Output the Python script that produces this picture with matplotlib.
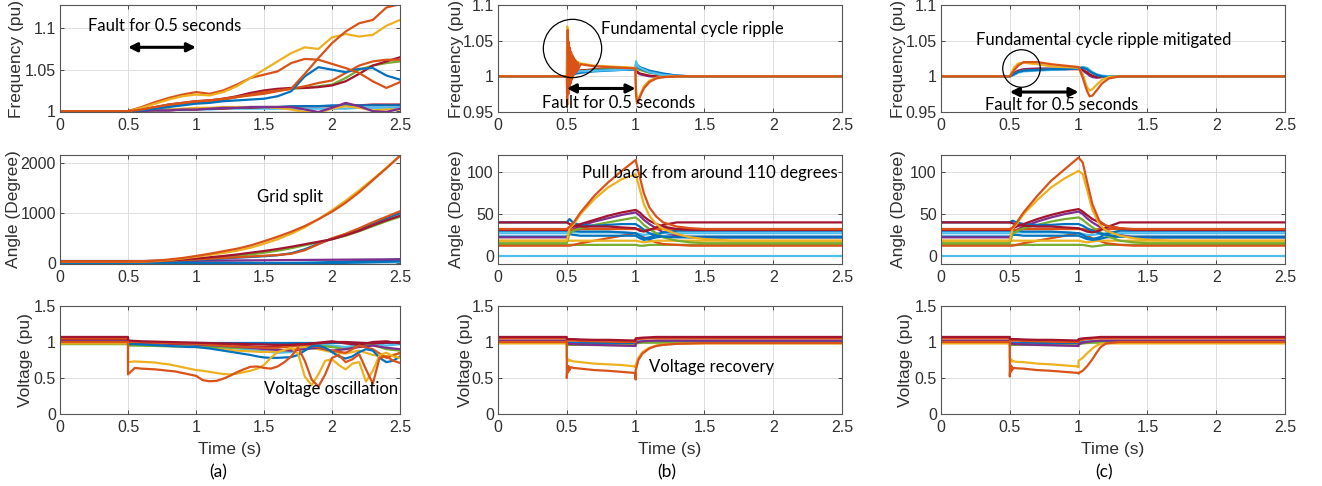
import matplotlib
matplotlib.use("Agg")
import matplotlib.pyplot as plt

# MATLAB default line colours
BLU, ORG, YEL, PUR, GRN, CYN, RED = ('#0072BD', '#D95319', '#EDB120', '#7E2F8E',
                                     '#77AC30', '#4DBEEE', '#A2142F')

# ---------------- (a) frequency / angle, same time grid ----------------
t_a = [0, 0.5, 0.6, 0.7, 0.8, 0.9, 1.0, 1.1, 1.2, 1.3, 1.4, 1.5, 1.6, 1.7, 1.8, 1.9, 2.0,
       2.1, 2.2, 2.3, 2.4, 2.5]

fa_yel = [1.000, 1.000, 1.004, 1.009, 1.014, 1.018, 1.020, 1.019, 1.023, 1.030, 1.040, 1.050,
          1.060, 1.070, 1.077, 1.075, 1.089, 1.093, 1.090, 1.092, 1.103, 1.110]
fa_org1 = [1.000, 1.000, 1.005, 1.011, 1.016, 1.020, 1.023, 1.021, 1.025, 1.032, 1.040, 1.044,
           1.048, 1.058, 1.063, 1.062, 1.057, 1.052, 1.046, 1.036, 1.028, 1.035]
fa_org2 = [1.000, 1.000, 1.002, 1.005, 1.008, 1.010, 1.012, 1.013, 1.015, 1.017, 1.019, 1.021,
           1.024, 1.027, 1.045, 1.064, 1.082, 1.096, 1.106, 1.110, 1.125, 1.129]
fa_red = [1.000, 1.000, 1.002, 1.005, 1.008, 1.010, 1.012, 1.013, 1.015, 1.018, 1.022, 1.025,
          1.027, 1.028, 1.028, 1.029, 1.031, 1.036, 1.045, 1.055, 1.060, 1.065]
fa_blu1 = [1.000, 1.000, 1.001, 1.003, 1.005, 1.007, 1.009, 1.010, 1.012, 1.013, 1.014, 1.015,
           1.018, 1.024, 1.042, 1.053, 1.050, 1.047, 1.051, 1.052, 1.043, 1.038]
fa_grn = [1.000, 1.000, 1.002, 1.004, 1.007, 1.009, 1.011, 1.012, 1.014, 1.017, 1.021, 1.024,
          1.026, 1.027, 1.028, 1.030, 1.032, 1.040, 1.050, 1.055, 1.058, 1.060]
fa_org3 = [1.000, 1.000, 1.002, 1.004, 1.006, 1.009, 1.011, 1.012, 1.014, 1.017, 1.020, 1.023,
           1.025, 1.027, 1.030, 1.034, 1.037, 1.046, 1.055, 1.060, 1.062, 1.062]
fa_pur = [1.000, 1.000, 1.000, 1.001, 1.001, 1.002, 1.002, 1.003, 1.004, 1.004, 1.005, 1.005,
          1.005, 1.005, 1.002, 0.999, 1.004, 1.010, 1.006, 1.000, 0.999, 1.003]
fa_yel2 = [1.000, 1.000, 1.000, 1.001, 1.002, 1.003, 1.004, 1.004, 1.005, 1.005, 1.005, 1.005,
           1.004, 1.002, 0.999, 0.998, 1.003, 1.006, 1.004, 1.001, 1.002, 1.002]
fa_blu2 = [1.000, 1.000, 1.000, 1.001, 1.002, 1.002, 1.003, 1.003, 1.004, 1.004, 1.005, 1.005,
           1.005, 1.006, 1.006, 1.006, 1.007, 1.007, 1.007, 1.007, 1.007, 1.007]
fa_cyn = [1.000, 1.000, 1.000, 1.001, 1.001, 1.002, 1.002, 1.002, 1.003, 1.003, 1.003, 1.003,
          1.003, 1.003, 1.003, 1.003, 1.003, 1.003, 1.004, 1.004, 1.004, 1.004]
fa_red2 = [1.000, 1.000, 1.000, 1.001, 1.001, 1.002, 1.002, 1.003, 1.003, 1.004, 1.004, 1.005,
           1.005, 1.005, 1.006, 1.006, 1.006, 1.007, 1.007, 1.008, 1.008, 1.008]

aa_yel = [30, 30, 35, 45, 65, 95, 130, 165, 205, 250, 310, 390, 480, 590, 720, 880, 1060, 1250,
          1460, 1680, 1910, 2150]
aa_org = [30, 30, 36, 50, 75, 105, 145, 190, 240, 290, 355, 440, 530, 630, 745, 880, 1030, 1210,
          1420, 1660, 1900, 2150]
aa_red = [40, 40, 42, 50, 60, 75, 95, 120, 145, 175, 210, 245, 285, 330, 380, 430, 480, 560, 650,
          760, 860, 950]
aa_blu = [20, 20, 22, 28, 38, 50, 65, 80, 95, 110, 125, 140, 160, 200, 280, 390, 490, 580, 680,
          800, 900, 1000]
aa_org2 = [30, 30, 32, 40, 50, 62, 75, 90, 105, 120, 135, 150, 165, 190, 260, 380, 500, 590, 700,
           820, 930, 1040]
aa_grn = [35, 35, 37, 43, 52, 65, 82, 100, 120, 145, 175, 210, 250, 300, 360, 420, 480, 550, 640,
          740, 840, 930]
aa_blu2 = [10, 10, 10, 9, 8, 7, 6, 5, 4, 3, 2, 2, 3, 5, 8, 15, 25, 35, 45, 55, 65, 75]
aa_pur = [45, 45, 45, 46, 47, 48, 50, 52, 54, 56, 58, 60, 62, 64, 66, 68, 70, 72, 74, 76, 78, 80]
aa_cyn = [0, 0, 0, 1, 1, 2, 2, 3, 3, 4, 5, 6, 7, 8, 9, 10, 12, 14, 16, 18, 20, 22]
aa_blu3 = [25, 25, 24, 22, 20, 18, 16, 14, 12, 10, 8, 6, 4, 2, 0, -2, 2, 8, 15, 22, 30, 40]

# ---------------- (a) voltage ----------------
t_va_fine = [0, 0.5, 0.5, 0.55, 0.6, 0.65, 0.7, 0.75, 0.8, 0.85, 0.9, 0.95, 1.0, 1.05, 1.1,
             1.15, 1.2, 1.25, 1.3, 1.35, 1.4, 1.45, 1.5, 1.55, 1.6, 1.65, 1.7, 1.75, 1.8, 1.85,
             1.9, 1.95, 2.0, 2.05, 2.1, 2.15, 2.2, 2.25, 2.3, 2.35, 2.4, 2.45, 2.5]
va_yel = [0.98, 0.98, 0.72, 0.73, 0.725, 0.72, 0.715, 0.70, 0.69, 0.67, 0.65, 0.63, 0.61, 0.60,
          0.585, 0.57, 0.555, 0.55, 0.56, 0.58, 0.60, 0.63, 0.68, 0.78, 0.86, 0.89, 0.92, 0.84,
          0.52, 0.40, 0.55, 0.74, 0.76, 0.68, 0.62, 0.70, 0.72, 0.45, 0.60, 0.82, 0.85, 0.80, 0.78]
va_org = [1.00, 1.00, 0.55, 0.64, 0.63, 0.625, 0.62, 0.61, 0.60, 0.59, 0.57, 0.55, 0.53, 0.47,
          0.455, 0.46, 0.49, 0.53, 0.58, 0.62, 0.655, 0.66, 0.64, 0.63, 0.66, 0.72, 0.80, 0.92,
          0.74, 0.48, 0.38, 0.55, 0.78, 0.82, 0.72, 0.76, 0.83, 0.62, 0.42, 0.78, 0.80, 0.74, 0.71]
va_blu = [1.00, 1.00, 0.97, 0.97, 0.965, 0.96, 0.955, 0.95, 0.945, 0.94, 0.935, 0.93, 0.93,
          0.92, 0.91, 0.895, 0.88, 0.865, 0.85, 0.835, 0.82, 0.80, 0.785, 0.78, 0.78, 0.785,
          0.79, 0.82, 0.88, 0.94, 0.95, 0.92, 0.86, 0.80, 0.77, 0.80, 0.86, 0.90, 0.88, 0.78,
          0.72, 0.74, 0.80]

t_va = [0, 0.5, 0.5, 0.6, 0.7, 0.8, 0.9, 1.0, 1.1, 1.2, 1.3, 1.4, 1.5, 1.6, 1.7, 1.8, 1.9, 2.0,
        2.1, 2.2, 2.3, 2.4, 2.5]
va_red = [1.07, 1.07, 1.02, 1.01, 1.005, 1.00, 0.995, 0.99, 0.985, 0.98, 0.975, 0.97, 0.965,
          0.96, 0.96, 0.97, 0.98, 1.00, 1.00, 0.99, 0.98, 0.99, 1.00]
va_org2 = [1.05, 1.05, 1.00, 0.995, 0.99, 0.985, 0.98, 0.975, 0.96, 0.95, 0.94, 0.93, 0.92,
           0.92, 0.94, 0.96, 0.93, 0.88, 0.85, 0.95, 0.90, 0.78, 0.85]
va_pur = [1.02, 1.02, 0.99, 0.985, 0.98, 0.975, 0.97, 0.965, 0.955, 0.945, 0.935, 0.92, 0.90,
          0.89, 0.88, 0.90, 0.92, 0.88, 0.90, 0.93, 0.95, 0.92, 0.90]
va_grn = [0.97, 0.97, 0.95, 0.95, 0.945, 0.94, 0.94, 0.935, 0.93, 0.925, 0.92, 0.915, 0.92,
          0.93, 0.94, 0.96, 0.95, 0.93, 0.90, 0.94, 0.96, 0.90, 0.88]
va_cyn = [1.00, 1.00, 0.98, 0.975, 0.97, 0.965, 0.96, 0.95, 0.94, 0.93, 0.91, 0.89, 0.87, 0.85,
          0.86, 0.93, 0.97, 0.95, 0.93, 0.96, 0.98, 0.95, 0.97]
va_blu2 = [1.00, 1.00, 0.99, 0.99, 0.99, 0.99, 0.99, 0.99, 0.99, 0.99, 0.99, 0.99, 0.99, 0.99,
           0.99, 0.99, 0.99, 0.99, 0.99, 0.99, 0.99, 0.99, 0.99]
va_yel2 = [0.98, 0.98, 0.96, 0.955, 0.95, 0.945, 0.94, 0.93, 0.92, 0.90, 0.88, 0.87, 0.86,
           0.87, 0.90, 0.93, 0.90, 0.86, 0.84, 0.88, 0.82, 0.80, 0.84]
va_red2 = [1.04, 1.04, 1.00, 0.995, 0.99, 0.985, 0.98, 0.975, 0.97, 0.96, 0.95, 0.94, 0.93,
           0.94, 0.96, 0.97, 0.99, 1.01, 0.98, 0.96, 1.00, 1.01, 0.98]

# ---------------- (b) frequency ----------------
t_fb_org = [0, 0.5, 0.503, 0.507, 0.511, 0.515, 0.519, 0.523, 0.527, 0.531, 0.535, 0.539, 0.543,
            0.547, 0.551, 0.555, 0.559, 0.563, 0.567, 0.571, 0.575, 0.579, 0.583, 0.6, 0.7, 0.8,
            0.9, 0.998, 1.003, 1.01, 1.02, 1.04, 1.06, 1.1, 1.15, 1.2, 1.3, 2.5]
fb_org = [1.0, 1.0, 0.960, 1.065, 0.975, 1.048, 0.985, 1.040, 0.990, 1.034, 0.995, 1.030, 0.999,
          1.027, 1.002, 1.024, 1.004, 1.022, 1.006, 1.020, 1.008, 1.019, 1.010, 1.017, 1.014,
          1.013, 1.012, 1.011, 0.975, 0.962, 0.965, 0.975, 0.983, 0.992, 0.997, 0.999, 1.0, 1.0]
t_fb_yel = [0, 0.5, 0.503, 0.507, 0.51, 0.515, 0.52, 0.53, 0.54, 0.55, 0.57, 0.6, 0.7, 0.8, 0.9,
            0.998, 1.003, 1.01, 1.02, 1.04, 1.06, 1.1, 1.15, 1.25, 2.5]
fb_yel = [1.0, 1.0, 1.07, 1.058, 1.05, 1.044, 1.039, 1.033, 1.028, 1.025, 1.021, 1.018, 1.015,
          1.014, 1.013, 1.012, 0.982, 0.968, 0.968, 0.977, 0.986, 0.994, 0.998, 1.0, 1.0]
t_fb_cyn = [0, 0.5, 0.502, 0.505, 0.51, 0.53, 0.6, 0.998, 1.003, 1.02, 1.1, 1.2, 1.35, 2.5]
fb_cyn = [1.0, 1.0, 1.04, 0.975, 1.0, 1.005, 1.007, 1.010, 1.021, 1.013, 1.006, 1.002, 1.0, 1.0]
t_fb = [0, 0.5, 0.52, 0.6, 0.7, 0.8, 0.9, 0.998, 1.003, 1.03, 1.1, 1.2, 1.3, 1.4, 2.5]
fb_blu = [1.0, 1.0, 1.003, 1.006, 1.008, 1.009, 1.0095, 1.010, 1.017, 1.013, 1.008, 1.004,
          1.001, 1.0, 1.0]
fb_blu2 = [1.0, 1.0, 1.002, 1.005, 1.007, 1.008, 1.009, 1.009, 1.014, 1.011, 1.006, 1.003,
           1.001, 1.0, 1.0]
fb_red = [1.0, 1.0, 1.004, 1.008, 1.010, 1.010, 1.010, 1.010, 1.008, 1.004, 1.001, 0.999, 1.0,
          1.0, 1.0]
fb_grn = [1.0, 1.0, 1.003, 1.007, 1.009, 1.010, 1.011, 1.011, 1.012, 1.009, 1.005, 1.002, 1.0,
          1.0, 1.0]
fb_pur = [1.0, 1.0, 1.004, 1.008, 1.009, 1.010, 1.010, 1.010, 1.007, 1.003, 1.0, 0.999, 1.0,
          1.0, 1.0]

# ---------------- (c) frequency ----------------
t_fc = [0, 0.5, 0.53, 0.56, 0.6, 0.7, 0.8, 0.9, 1.0, 1.03, 1.06, 1.08, 1.1, 1.13, 1.17, 1.22,
        1.3, 2.5]
fc_yel = [1.0, 1.0, 1.012, 1.018, 1.019, 1.017, 1.014, 1.013, 1.012, 1.003, 0.985, 0.980, 0.982,
          0.988, 0.995, 0.999, 1.0, 1.0]
fc_org = [1.0, 1.0, 1.008, 1.015, 1.020, 1.020, 1.017, 1.015, 1.013, 0.998, 0.980, 0.972, 0.973,
          0.980, 0.990, 0.997, 1.0, 1.0]
fc_blu = [1.0, 1.0, 1.003, 1.006, 1.008, 1.009, 1.010, 1.010, 1.011, 1.012, 1.010, 1.007, 1.005,
          1.002, 1.000, 0.999, 1.0, 1.0]
fc_red = [1.0, 1.0, 1.004, 1.007, 1.009, 1.010, 1.010, 1.010, 1.010, 1.009, 1.006, 1.003, 1.001,
          0.999, 0.999, 1.0, 1.0, 1.0]
fc_grn = [1.0, 1.0, 1.003, 1.006, 1.008, 1.009, 1.010, 1.011, 1.012, 1.013, 1.011, 1.008, 1.005,
          1.002, 1.0, 1.0, 1.0, 1.0]
fc_cyn = [1.0, 1.0, 1.002, 1.005, 1.007, 1.008, 1.009, 1.010, 1.011, 1.013, 1.012, 1.009, 1.006,
          1.003, 1.001, 1.0, 1.0, 1.0]
fc_pur = [1.0, 1.0, 1.004, 1.008, 1.010, 1.011, 1.011, 1.011, 1.011, 1.008, 1.004, 1.001, 0.999,
          0.998, 0.999, 1.0, 1.0, 1.0]

# ---------------- (b)/(c) angle ----------------
t_ang = [0, 0.5, 0.52, 0.55, 0.6, 0.7, 0.8, 0.9, 1.0, 1.03, 1.06, 1.1, 1.15, 1.2, 1.3, 1.4, 1.5,
         1.7, 2.5]
ab_org = [32, 32, 35, 40, 52, 72, 88, 102, 115, 95, 75, 58, 47, 40, 35, 33, 32, 32, 32]
ab_yel = [18, 18, 33, 38, 50, 68, 82, 92, 98, 80, 62, 48, 38, 32, 26, 22, 20, 18, 18]
ab_red1 = [40, 40, 38, 36, 35, 35, 35, 34, 33, 30, 29, 31, 34, 37, 40, 40, 40, 40, 40]
ab_red2 = [31, 31, 33, 35, 38, 43, 48, 52, 55, 52, 47, 42, 38, 35, 32, 31, 31, 31, 31]
ab_pur = [22, 22, 28, 32, 36, 41, 45, 49, 52, 48, 43, 38, 33, 28, 24, 22, 22, 22, 22]
ab_grn = [15, 15, 27, 30, 33, 37, 40, 43, 46, 42, 37, 32, 27, 22, 18, 16, 15, 15, 15]
ab_blu1 = [40, 40, 44, 39, 37, 36, 37, 38, 38, 35, 31, 27, 24, 23, 22, 22, 22, 22, 22]
ab_blu2 = [30, 30, 32, 30, 29, 29, 29, 28, 27, 24, 21, 22, 25, 28, 30, 30, 30, 30, 30]
ab_blu3 = [23, 23, 26, 25, 24, 24, 24, 24, 24, 21, 19, 20, 22, 23, 23, 23, 23, 23, 23]
ab_cyn = [27, 27, 29, 28, 28, 28, 28, 28, 27, 26, 25, 26, 27, 27, 27, 27, 27, 27, 27]
ab_cyn0 = [0, 0, 0, 0, 0, 0, 0, 0, 0, 0, 0, 0, 0, 0, 0, 0, 0, 0, 0]
ab_org2 = [12, 12, 12, 13, 15, 18, 21, 24, 27, 25, 22, 19, 16, 14, 13, 12, 12, 12, 12]
ab_yel2 = [18, 18, 18, 18, 18, 18, 18, 18, 18, 17, 16, 17, 18, 18, 18, 18, 18, 18, 18]
ab_grn2 = [13, 13, 13, 13, 13, 13, 13, 13, 13, 12, 12, 13, 13, 13, 13, 13, 13, 13, 13]
ab_org3 = [32, 32, 31, 31, 32, 32, 32, 32, 32, 32, 31, 31, 32, 32, 32, 32, 32, 32, 32]

ac_org = [32, 32, 34, 40, 52, 72, 90, 104, 118, 112, 90, 62, 42, 36, 33, 32, 32, 32, 32]
ac_yel = [18, 18, 33, 38, 50, 67, 82, 93, 102, 98, 80, 55, 38, 30, 24, 21, 19, 18, 18]
ac_red1 = [40, 40, 39, 37, 36, 35, 35, 34, 33, 31, 29, 28, 30, 34, 40, 40, 40, 40, 40]
ac_red2 = [31, 31, 33, 35, 38, 44, 49, 53, 56, 53, 49, 44, 40, 36, 33, 31, 31, 31, 31]
ac_pur = [22, 22, 27, 31, 35, 41, 46, 50, 53, 50, 45, 40, 35, 30, 25, 22, 22, 22, 22]
ac_grn = [15, 15, 26, 29, 33, 37, 41, 44, 46, 43, 39, 34, 29, 24, 18, 16, 15, 15, 15]
ac_blu1 = [40, 40, 42, 40, 38, 37, 37, 38, 38, 36, 33, 30, 27, 25, 23, 22, 22, 22, 22]
ac_blu2 = [30, 30, 31, 30, 29, 29, 29, 28, 27, 25, 22, 20, 22, 26, 30, 30, 30, 30, 30]
ac_blu3 = [23, 23, 25, 25, 24, 24, 24, 24, 24, 22, 20, 19, 20, 22, 23, 23, 23, 23, 23]
ac_cyn = [27, 27, 28, 28, 28, 28, 28, 28, 27, 26, 25, 25, 26, 27, 27, 27, 27, 27, 27]
ac_org2 = [12, 12, 12, 13, 15, 18, 21, 24, 27, 26, 24, 21, 18, 15, 13, 12, 12, 12, 12]
ac_grn2 = [13, 13, 13, 13, 13, 13, 13, 13, 13, 13, 12, 11, 12, 13, 13, 13, 13, 13, 13]

# ---------------- (b)/(c) voltage ----------------
t_vb = [0, 0.5, 0.5, 0.505, 0.51, 0.515, 0.52, 0.53, 0.55, 0.6, 0.7, 0.8, 0.9, 0.998, 1.0, 1.0,
        1.02, 1.05, 1.1, 1.15, 1.2, 1.3, 1.5, 2.5]
vb_org = [1.0, 1.0, 0.50, 0.67, 0.58, 0.66, 0.61, 0.65, 0.64, 0.63, 0.61, 0.60, 0.585, 0.57,
          0.48, 0.60, 0.75, 0.84, 0.91, 0.945, 0.96, 0.975, 0.985, 0.985]
vb_yel = [0.98, 0.98, 0.78, 0.74, 0.76, 0.74, 0.75, 0.74, 0.73, 0.72, 0.70, 0.69, 0.68, 0.66,
          0.65, 0.68, 0.78, 0.86, 0.92, 0.95, 0.965, 0.975, 0.98, 0.98]
vb_red = [1.07, 1.07, 1.04, 1.04, 1.04, 1.04, 1.04, 1.04, 1.04, 1.035, 1.03, 1.03, 1.025, 1.02,
          1.02, 1.05, 1.055, 1.06, 1.065, 1.07, 1.07, 1.07, 1.07, 1.07]
vb_org2 = [1.05, 1.05, 1.02, 1.02, 1.02, 1.02, 1.02, 1.02, 1.02, 1.015, 1.01, 1.005, 1.0, 1.0,
           1.0, 1.03, 1.04, 1.045, 1.05, 1.05, 1.05, 1.05, 1.05, 1.05]
vb_pur = [1.02, 1.02, 0.98, 0.98, 0.98, 0.975, 0.975, 0.97, 0.97, 0.965, 0.96, 0.955, 0.95,
          0.945, 0.945, 0.98, 1.0, 1.01, 1.015, 1.02, 1.02, 1.02, 1.02, 1.02]
vb_grn = [0.99, 0.99, 0.94, 0.95, 0.955, 0.96, 0.96, 0.96, 0.96, 0.96, 0.958, 0.957, 0.956,
          0.955, 0.955, 0.975, 0.985, 0.99, 0.99, 0.99, 0.99, 0.99, 0.99, 0.99]
vb_blu = [1.0, 1.0, 0.985, 0.985, 0.985, 0.985, 0.985, 0.985, 0.985, 0.985, 0.985, 0.985, 0.985,
          0.985, 0.985, 0.995, 1.0, 1.0, 1.0, 1.0, 1.0, 1.0, 1.0, 1.0]
vb_cyn = [1.01, 1.01, 0.995, 0.995, 0.995, 0.995, 0.995, 0.995, 0.995, 0.995, 0.995, 0.995,
          0.995, 0.995, 0.995, 1.005, 1.01, 1.01, 1.01, 1.01, 1.01, 1.01, 1.01, 1.01]

t_vc = [0, 0.5, 0.5, 0.505, 0.51, 0.515, 0.52, 0.53, 0.55, 0.6, 0.7, 0.8, 0.9, 0.998, 1.0, 1.0,
        1.03, 1.06, 1.1, 1.13, 1.16, 1.2, 1.3, 2.5]
vc_org = [1.0, 1.0, 0.52, 0.68, 0.59, 0.66, 0.62, 0.64, 0.635, 0.63, 0.61, 0.60, 0.585, 0.57,
          0.56, 0.57, 0.60, 0.66, 0.76, 0.85, 0.93, 0.98, 1.0, 1.0]
vc_yel = [0.98, 0.98, 0.78, 0.73, 0.76, 0.73, 0.74, 0.73, 0.725, 0.72, 0.70, 0.69, 0.675, 0.66,
          0.65, 0.74, 0.78, 0.84, 0.91, 0.95, 0.975, 0.98, 0.98, 0.98]
vc_red = [1.07, 1.07, 1.04, 1.04, 1.04, 1.04, 1.04, 1.04, 1.04, 1.035, 1.03, 1.03, 1.025, 1.02,
          1.02, 1.04, 1.05, 1.055, 1.06, 1.065, 1.07, 1.07, 1.07, 1.07]
vc_org2 = [1.05, 1.05, 1.02, 1.02, 1.02, 1.02, 1.02, 1.02, 1.02, 1.015, 1.01, 1.005, 1.0, 1.0,
           1.0, 1.02, 1.03, 1.04, 1.045, 1.05, 1.05, 1.05, 1.05, 1.05]
vc_pur = [1.02, 1.02, 0.98, 0.98, 0.98, 0.975, 0.975, 0.97, 0.97, 0.965, 0.96, 0.955, 0.95,
          0.945, 0.945, 0.97, 0.99, 1.0, 1.01, 1.015, 1.02, 1.02, 1.02, 1.02]
vc_grn = [0.99, 0.99, 0.94, 0.95, 0.955, 0.96, 0.96, 0.96, 0.96, 0.96, 0.958, 0.957, 0.956,
          0.955, 0.955, 0.97, 0.98, 0.985, 0.99, 0.99, 0.99, 0.99, 0.99, 0.99]
vc_blu = [1.0, 1.0, 0.985, 0.985, 0.985, 0.985, 0.985, 0.985, 0.985, 0.985, 0.985, 0.985, 0.985,
          0.985, 0.985, 0.99, 0.995, 1.0, 1.0, 1.0, 1.0, 1.0, 1.0, 1.0]
vc_cyn = [1.01, 1.01, 0.995, 0.995, 0.995, 0.995, 0.995, 0.995, 0.995, 0.995, 0.995, 0.995,
          0.995, 0.995, 0.995, 1.0, 1.005, 1.01, 1.01, 1.01, 1.01, 1.01, 1.01, 1.01]

xticks = [0, 0.5, 1, 1.5, 2, 2.5]
xticklabels = ['0', '0.5', '1', '1.5', '2', '2.5']

plt.rcParams['font.family'] = ['Liberation Sans', 'DejaVu Sans']
TICK_C = '#303030'
NOTE_FONT = ['Lato', 'DejaVu Sans']
LW = 1.6
TICK_FS = 11.5
LABEL_FS = 12.5

fig = plt.figure(figsize=(13.22, 4.86), dpi=100)

W, H = 1322, 486
col_x = [(60, 340), (498, 344), (941, 344)]
row_y = [(5, 107), (155, 109), (306, 108)]


def make_ax(ci, ri):
    x0, w = col_x[ci]
    y0, h = row_y[ri]
    ax = fig.add_axes([x0 / W, 1 - (y0 + h) / H, w / W, h / H])
    ax.set_xlim(0, 2.5)
    ax.set_xticks(xticks)
    ax.set_xticklabels(xticklabels)
    ax.grid(True, color='#dedede', lw=0.7)
    ax.set_axisbelow(True)
    ax.tick_params(direction='in', length=3, width=0.6, colors=TICK_C, labelsize=TICK_FS,
                   top=True, right=True, pad=4)
    ax.tick_params(axis='y', pad=3)
    for s in ax.spines.values():
        s.set_color('#555555')
        s.set_linewidth(0.8)
    return ax


def ylabel(ax, ci, text, px):
    # px: pixel x of the label's right (baseline) side
    x0, w = col_x[ci]
    ax.set_ylabel(text, fontsize=LABEL_FS, color=TICK_C)
    ax.yaxis.set_label_coords((px - x0) / w, 0.5)


def draw(ax, t, series):
    for vals, c in series:
        ax.plot(t, vals, color=c, lw=LW, solid_joinstyle='round')


def note(ax, x, y, s):
    ax.text(x, y, s, ha='center', va='center', fontsize=12, family=NOTE_FONT, color='k')


def fault_arrow(ax, y):
    ax.annotate('', xy=(1.0, y), xytext=(0.5, y),
                arrowprops=dict(arrowstyle='<|-|>', color='k', lw=2.2, mutation_scale=13,
                                shrinkA=0, shrinkB=0))


# ---- column (a)
ax = make_ax(0, 0)
draw(ax, t_a, [(fa_cyn, CYN), (fa_red2, RED), (fa_blu2, BLU), (fa_yel2, YEL), (fa_pur, PUR),
               (fa_grn, GRN), (fa_red, RED), (fa_org3, ORG), (fa_blu1, BLU), (fa_org1, ORG),
               (fa_yel, YEL), (fa_org2, ORG)])
ax.set_ylim(0.999, 1.128)
ax.set_yticks([1, 1.05, 1.1])
ax.set_yticklabels(['1', '1.05', '1.1'])
ylabel(ax, 0, 'Frequency (pu)', 24)
note(ax, 0.77, 1.1025, 'Fault for 0.5 seconds')
fault_arrow(ax, 1.077)

ax = make_ax(0, 1)
draw(ax, t_a, [(aa_cyn, CYN), (aa_blu3, BLU), (aa_blu2, BLU), (aa_pur, PUR), (aa_grn, GRN),
               (aa_blu, BLU), (aa_org2, ORG), (aa_red, RED), (aa_yel, YEL), (aa_org, ORG)])
ax.set_ylim(-15, 2165)
ax.set_yticks([0, 1000, 2000])
ylabel(ax, 0, 'Angle (Degree)', 21)
note(ax, 1.69, 1330, 'Grid split')

ax = make_ax(0, 2)
draw(ax, t_va, [(va_blu2, BLU), (va_cyn, CYN), (va_yel2, YEL), (va_grn, GRN), (va_pur, PUR),
                (va_red2, RED), (va_org2, ORG), (va_red, RED)])
draw(ax, t_va_fine, [(va_blu, BLU), (va_yel, YEL), (va_org, ORG)])
ax.set_ylim(0, 1.5)
ax.set_yticks([0, 0.5, 1, 1.5])
ax.set_yticklabels(['0', '0.5', '1', '1.5'])
ylabel(ax, 0, 'Voltage (pu)', 33)
ax.set_xlabel('Time (s)', fontsize=LABEL_FS, color=TICK_C, labelpad=5)
note(ax, 1.99, 0.35, 'Voltage oscillation')

# ---- column (b)
ax = make_ax(1, 0)
draw(ax, t_fb, [(fb_pur, PUR), (fb_red, RED), (fb_grn, GRN), (fb_blu2, BLU), (fb_blu, BLU)])
draw(ax, t_fb_cyn, [(fb_cyn, CYN)])
draw(ax, t_fb_yel, [(fb_yel, YEL)])
draw(ax, t_fb_org, [(fb_org, ORG)])
ax.set_ylim(0.95, 1.1)
ax.set_yticks([0.95, 1, 1.05, 1.1])
ax.set_yticklabels(['0.95', '1', '1.05', '1.1'])
ylabel(ax, 1, 'Frequency (pu)', 464)
ax.plot([0.535], [1.040], 'o', ms=42, mfc='none', mec='k', mew=0.9)
note(ax, 1.41, 1.0665, 'Fundamental cycle ripple')
fault_arrow(ax, 0.983)
note(ax, 0.88, 0.9625, 'Fault for 0.5 seconds')

ax = make_ax(1, 1)
draw(ax, t_ang, [(ab_cyn0, CYN), (ab_grn2, GRN), (ab_org2, ORG), (ab_yel2, YEL), (ab_blu3, BLU),
                 (ab_pur, PUR), (ab_cyn, CYN), (ab_blu2, BLU), (ab_org3, ORG), (ab_grn, GRN),
                 (ab_blu1, BLU), (ab_red2, RED), (ab_red1, RED), (ab_yel, YEL), (ab_org, ORG)])
ax.set_ylim(-10, 121)
ax.set_yticks([0, 50, 100])
ylabel(ax, 1, 'Angle (Degree)', 464)
note(ax, 1.54, 99, 'Pull back from around 110 degrees')

ax = make_ax(1, 2)
draw(ax, t_vb, [(vb_cyn, CYN), (vb_blu, BLU), (vb_grn, GRN), (vb_pur, PUR), (vb_org2, ORG),
                (vb_red, RED), (vb_yel, YEL), (vb_org, ORG)])
ax.set_ylim(0, 1.5)
ax.set_yticks([0, 0.5, 1, 1.5])
ax.set_yticklabels(['0', '0.5', '1', '1.5'])
ylabel(ax, 1, 'Voltage (pu)', 473)
ax.set_xlabel('Time (s)', fontsize=LABEL_FS, color=TICK_C, labelpad=5)
note(ax, 1.555, 0.65, 'Voltage recovery')

# ---- column (c)
ax = make_ax(2, 0)
draw(ax, t_fc, [(fc_pur, PUR), (fc_red, RED), (fc_grn, GRN), (fc_cyn, CYN), (fc_blu, BLU),
                (fc_yel, YEL), (fc_org, ORG)])
ax.set_ylim(0.95, 1.1)
ax.set_yticks([0.95, 1, 1.05, 1.1])
ax.set_yticklabels(['0.95', '1', '1.05', '1.1'])
ylabel(ax, 2, 'Frequency (pu)', 906)
ax.plot([0.58], [1.012], 'o', ms=27, mfc='none', mec='k', mew=0.9)
note(ax, 1.185, 1.051, 'Fundamental cycle ripple mitigated')
fault_arrow(ax, 0.978)
note(ax, 0.88, 0.9597, 'Fault for 0.5 seconds')

ax = make_ax(2, 1)
draw(ax, t_ang, [(ab_cyn0, CYN), (ac_grn2, GRN), (ac_org2, ORG), (ab_yel2, YEL), (ac_blu3, BLU),
                 (ac_pur, PUR), (ac_cyn, CYN), (ac_blu2, BLU), (ab_org3, ORG), (ac_grn, GRN),
                 (ac_blu1, BLU), (ac_red2, RED), (ac_red1, RED), (ac_yel, YEL), (ac_org, ORG)])
ax.set_ylim(-10, 121)
ax.set_yticks([0, 50, 100])
ylabel(ax, 2, 'Angle (Degree)', 906)

ax = make_ax(2, 2)
draw(ax, t_vc, [(vc_cyn, CYN), (vc_blu, BLU), (vc_grn, GRN), (vc_pur, PUR), (vc_org2, ORG),
                (vc_red, RED), (vc_yel, YEL), (vc_org, ORG)])
ax.set_ylim(0, 1.5)
ax.set_yticks([0, 0.5, 1, 1.5])
ax.set_yticklabels(['0', '0.5', '1', '1.5'])
ylabel(ax, 2, 'Voltage (pu)', 913)
ax.set_xlabel('Time (s)', fontsize=LABEL_FS, color=TICK_C, labelpad=5)

for x, s in [(218, '(a)'), (667, '(b)'), (1104, '(c)')]:
    fig.text(x / W, 1 - 472 / H, s, ha='center', va='center', fontsize=12.5, family=NOTE_FONT)

fig.savefig('out.png', dpi=100)
